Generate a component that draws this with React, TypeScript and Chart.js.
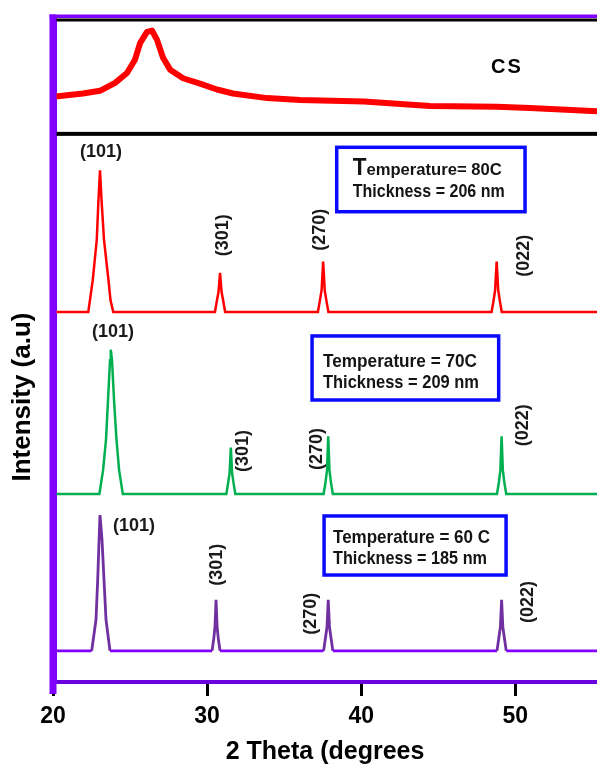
import React, { useEffect, useRef } from "react";
import { Chart, registerables } from "chart.js";
Chart.register(...registerables);

const FONT = "'Liberation Sans', Arial, Helvetica, sans-serif";

// ---------- axes ----------
const X_MIN = 20;
const X_MAX = 55.3;
const X_TICK_STEP = 10;
const Y_MIN = 0;
const Y_MAX = 100;
const X_TITLE = "2 Theta (degrees";
const Y_TITLE = "Intensity (a.u)";

// ---------- CS (chitosan) pattern ----------
const csTheta = [20.0, 21.95, 23.05, 24.03, 24.8, 25.32, 25.65, 26.1, 26.43, 26.75, 27.14, 27.6, 28.44, 29.54, 30.64, 31.68, 33.89, 36.03, 40.18, 44.46, 48.81, 50.95, 55.3];
const csIntensity = [88.4, 88.9, 89.3, 90.5, 92.0, 94.0, 96.5, 98.2, 98.4, 97.0, 94.3, 92.5, 91.2, 90.4, 89.5, 88.9, 88.2, 87.9, 87.7, 87.0, 86.9, 86.7, 86.2];

// ---------- 80 C film ----------
const theta80 = [20, 22.29, 22.4, 22.58, 22.84, 22.95, 23.05, 23.15, 23.31, 23.6, 23.73, 23.91, 30.51, 30.62, 30.74, 30.84, 30.94, 31.06, 31.17, 37.19, 37.31, 37.43, 37.53, 37.63, 37.75, 37.87, 48.46, 48.58, 48.69, 48.79, 48.89, 49.0, 49.12, 55.3];
const int80 = [55.9, 55.9, 57.7, 60.7, 66.8, 72.8, 77.3, 72.8, 66.8, 60.7, 57.7, 55.9, 55.9, 57.4, 58.9, 61.8, 58.9, 57.4, 55.9, 55.9, 57.5, 59.2, 63.5, 59.2, 57.5, 55.9, 55.9, 57.5, 59.2, 63.5, 59.2, 57.5, 55.9, 55.9];

// ---------- 70 C film ----------
const theta70 = [20, 23.01, 23.25, 23.44, 23.57, 23.7, 23.75, 23.83, 23.96, 24.12, 24.29, 24.53, 31.25, 31.36, 31.46, 31.54, 31.62, 31.72, 31.83, 37.56, 37.68, 37.78, 37.86, 37.94, 38.04, 38.16, 48.81, 48.93, 49.03, 49.11, 49.19, 49.29, 49.41, 55.3];
const int70 = [28.4, 28.4, 32.0, 36.6, 42.6, 48.6, 50.2, 48.6, 42.6, 36.6, 32.0, 28.4, 28.4, 30.0, 31.6, 35.4, 31.6, 30.0, 28.4, 28.4, 30.1, 32.0, 37.1, 32.0, 30.1, 28.4, 28.4, 30.1, 32.0, 37.1, 32.0, 30.1, 28.4, 28.4];

// ---------- 60 C film ----------
const theta60 = [20, 22.51, 22.79, 22.9, 22.99, 23.05, 23.18, 23.31, 23.44, 23.7, 30.32, 30.43, 30.51, 30.58, 30.65, 30.73, 30.84, 37.56, 37.67, 37.78, 37.86, 37.94, 38.05, 38.16, 48.81, 48.92, 49.03, 49.11, 49.19, 49.3, 49.41, 55.3];
const int60 = [4.7, 4.7, 9.4, 15.4, 21.5, 25.2, 21.5, 15.4, 9.4, 4.7, 4.7, 6.5, 8.3, 12.4, 8.3, 6.5, 4.7, 4.7, 6.5, 8.3, 12.4, 8.3, 6.5, 4.7, 4.7, 6.5, 8.3, 12.4, 8.3, 6.5, 4.7, 4.7];
const base60 = 4.7;

const SEPARATOR_LEVEL = 82.8;

// ---------- annotations ----------
const hkl = ["(101)", "(301)", "(270)", "(022)"];
// [theta, intensity, rotated]
const labels80: [number, number, boolean][] = [[23.12, 80.1, false], [31.04, 67.5, true], [37.34, 68.3, true], [50.58, 64.4, true]];
const labels70: [number, number, boolean][] = [[23.9, 52.9, false], [32.34, 34.9, true], [37.14, 35.2, true], [50.52, 38.8, true]];
const labels60: [number, number, boolean][] = [[25.26, 23.6, false], [30.65, 17.7, true], [36.75, 10.3, true], [50.84, 12.1, true]];

const csLabel = { text: "CS", x: 49.46, y: 92.9 };

const boxes = [
  { x1: 38.41, x2: 50.63, y1: 80.77, y2: 71.04, tx: 39.45,
    lines: [
      { parts: [{ t: "T", size: 23 }, { t: "emperature= 80C", size: 17 }], base: 76.59, w: 149 },
      { parts: [{ t: "Thickness = 206 nm", size: 19 }], base: 73.31, w: 152 },
    ] },
  { x1: 36.81, x2: 48.92, y1: 52.27, y2: 42.6, tx: 37.52,
    lines: [
      { parts: [{ t: "Temperature = 70C", size: 19 }], base: 47.63, w: 154 },
      { parts: [{ t: "Thickness = 209 nm", size: 19 }], base: 44.37, w: 156 },
    ] },
  { x1: 37.59, x2: 49.4, y1: 25.08, y2: 16.16, tx: 38.17,
    lines: [
      { parts: [{ t: "Temperature = 60 C", size: 19 }], base: 21.04, w: 157 },
      { parts: [{ t: "Thickness = 185 nm", size: 19 }], base: 17.82, w: 154 },
    ] },
];

const RED = "#ff0000";
const GREEN = "#00b050";
const PURPLE = "#7030a0";
const VIOLET = "#8000ff";

const pts = (xs: number[], ys: number[]) => xs.map((x, i) => ({ x, y: ys[i] }));

const decoPlugin = {
  id: "deco",
  afterDatasetsDraw(chart: any) {
    const ctx = chart.ctx;
    const xs = chart.scales.x;
    const ys = chart.scales.y;
    ctx.save();
    const drawSet = (arr: [number, number, boolean][]) => {
      arr.forEach((l, i) => {
        const px = xs.getPixelForValue(l[0]);
        const py = ys.getPixelForValue(l[1]);
        ctx.save();
        ctx.translate(px, py);
        if (l[2]) ctx.rotate(-Math.PI / 2);
        ctx.font = `bold 18px ${FONT}`;
        ctx.fillStyle = "#1a1a1a";
        ctx.textAlign = "center";
        ctx.textBaseline = "middle";
        ctx.fillText(hkl[i], 0, 0);
        ctx.restore();
      });
    };
    drawSet(labels80);
    drawSet(labels70);
    drawSet(labels60);

    ctx.save();
    ctx.font = `bold 20px ${FONT}`;
    ctx.fillStyle = "#000";
    ctx.textAlign = "center";
    ctx.textBaseline = "middle";
    (ctx as any).letterSpacing = "2px";
    ctx.fillText(csLabel.text, xs.getPixelForValue(csLabel.x), ys.getPixelForValue(csLabel.y));
    ctx.restore();

    boxes.forEach((b) => {
      const x1 = xs.getPixelForValue(b.x1);
      const x2 = xs.getPixelForValue(b.x2);
      const y1 = ys.getPixelForValue(b.y1);
      const y2 = ys.getPixelForValue(b.y2);
      ctx.fillStyle = "#fff";
      ctx.fillRect(x1, y1, x2 - x1, y2 - y1);
      ctx.strokeStyle = "#0a0aff";
      ctx.lineWidth = 3.5;
      ctx.strokeRect(x1, y1, x2 - x1, y2 - y1);
      const tx = xs.getPixelForValue(b.tx);
      b.lines.forEach((ln) => {
        const by = ys.getPixelForValue(ln.base);
        let natural = 0;
        ln.parts.forEach((p) => {
          ctx.font = `bold ${p.size}px ${FONT}`;
          natural += ctx.measureText(p.t).width;
        });
        const sx = ln.w / natural;
        ctx.save();
        ctx.translate(tx, by);
        ctx.scale(sx, 1);
        ctx.fillStyle = "#141414";
        ctx.textAlign = "left";
        ctx.textBaseline = "alphabetic";
        let cx = 0;
        ln.parts.forEach((p) => {
          ctx.font = `bold ${p.size}px ${FONT}`;
          ctx.fillText(p.t, cx, 0);
          cx += ctx.measureText(p.t).width;
        });
        ctx.restore();
      });
    });
    ctx.restore();
  },
  afterDraw(chart: any) {
    const ctx = chart.ctx;
    const ys = chart.scales.y;
    const area = chart.chartArea;
    ctx.save();
    ctx.fillStyle = VIOLET;
    ctx.fillRect(area.left - 3.5, 14.5, area.right - area.left + 3.5, 3.5);
    ctx.fillStyle = "#000";
    ctx.fillRect(area.left + 3, 18.5, area.right - area.left - 3, 3);
    const sy = ys.getPixelForValue(SEPARATOR_LEVEL);
    ctx.fillRect(area.left + 3, sy - 2, area.right - area.left - 3, 4);
    ctx.fillStyle = VIOLET;
    ctx.fillRect(area.left - 3.5, 14.5, 7, area.bottom + 12 - 14.5);
    ctx.translate(23, 397);
    ctx.rotate(-Math.PI / 2);
    ctx.font = `bold 26px ${FONT}`;
    ctx.fillStyle = "#000";
    ctx.textAlign = "center";
    ctx.textBaseline = "middle";
    ctx.fillText(Y_TITLE, 0, 0);
    ctx.restore();
  },
};

export default function App() {
  const ref = useRef<HTMLCanvasElement | null>(null);
  useEffect(() => {
    if (!ref.current) return;
    const chart = new Chart(ref.current, {
      type: "line",
      data: {
        datasets: [
          { label: "CS", data: pts(csTheta, csIntensity), borderColor: RED, borderWidth: 6, pointRadius: 0, tension: 0, borderJoinStyle: "round" },
          { label: "80 C", data: pts(theta80, int80), borderColor: RED, borderWidth: 2.5, pointRadius: 0 },
          { label: "70 C", data: pts(theta70, int70), borderColor: GREEN, borderWidth: 2.5, pointRadius: 0 },
          {
            label: "60 C", data: pts(theta60, int60), borderColor: PURPLE, borderWidth: 2.8, pointRadius: 0,
            segment: {
              borderColor: (c: any) => (c.p0.parsed.y === base60 && c.p1.parsed.y === base60 ? VIOLET : PURPLE),
            },
          } as any,
        ],
      },
      options: {
        responsive: false,
        animation: false,
        devicePixelRatio: 1,
        layout: { padding: { top: 20, right: 0, left: 0, bottom: 0 } },
        plugins: { legend: { display: false }, tooltip: { enabled: false } },
        scales: {
          x: {
            type: "linear",
            min: X_MIN,
            max: X_MAX,
            afterFit: (s: any) => { s.height = 83; },
            ticks: {
              stepSize: X_TICK_STEP,
              includeBounds: false,
              color: "#000",
              padding: 7,
              font: { family: FONT, size: 23, weight: "bold" },
              maxRotation: 0,
            },
            grid: { drawOnChartArea: false, tickLength: 14, tickColor: "#000", tickWidth: 3 },
            border: { color: "#6a00e0", width: 4 },
            title: {
              display: true,
              text: X_TITLE,
              color: "#000",
              padding: { top: 0, bottom: 0 },
              font: { family: FONT, size: 25, weight: "bold", lineHeight: 1 },
            },
          },
          y: {
            type: "linear",
            min: Y_MIN,
            max: Y_MAX,
            afterFit: (s: any) => { s.width = 53; },
            ticks: { display: false },
            grid: { display: false },
            border: { color: VIOLET, width: 7 },
          },
        },
      },
      plugins: [decoPlugin],
    } as any);
    return () => chart.destroy();
  }, []);
  return (
    <div style={{ position: "fixed", left: 0, top: 0, width: 597, height: 765, background: "#fff" }}>
      <canvas ref={ref} width={597} height={765} style={{ display: "block" }} />
    </div>
  );
}
